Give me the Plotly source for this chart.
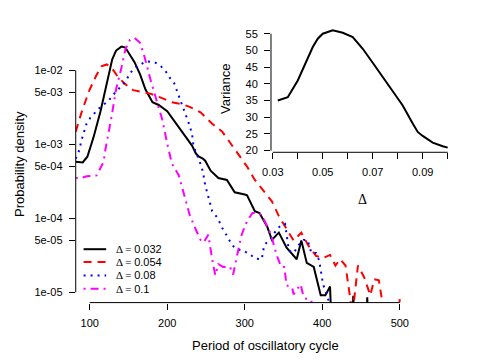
import math
import plotly.graph_objects as go

# period of oscillatory cycle vs probability density, one pair per Delta
period_032 = [82, 91, 97, 105, 114, 122, 129, 134, 141, 146, 152, 158, 165, 172, 181, 189, 200, 215, 225, 232,
              237, 241, 246, 249, 256, 266, 277, 287, 300, 303, 313, 319, 329, 335, 344, 354, 367, 373, 380, 389,
              398, 404, 410, 414, 437, 440, 443, 455, 458, 461]
dens_032 = [5.8e-4, 5.7e-4, 6.8e-4, 1.25e-3, 2.8e-3, 6.9e-3, 1.4e-2, 1.85e-2, 2.09e-2, 2.03e-2,
            1.63e-2, 1.28e-2, 8.8e-3, 5.5e-3, 3.7e-3, 3.4e-3, 2.8e-3, 1.7e-3, 1.19e-3, 9.6e-4,
            7.5e-4, 6.8e-4, 6.4e-4, 6.0e-4, 4.4e-4, 3.5e-4, 3.3e-4, 2.25e-4, 2.1e-4, 2.05e-4,
            1.25e-4, 1.18e-4, 7.7e-5, 5.1e-5, 6.4e-5, 4.0e-5, 2.8e-5, 5.0e-5, 2.5e-5, 2.2e-5,
            9.1e-6, 9.1e-6, 1.2e-5, 1e-6, 1e-6, 9e-6, 1e-6, 1e-6, 8.6e-6, 1e-6]

period_054 = [82, 89, 99, 108, 115, 122, 128, 137, 146, 156, 168, 179, 191, 206, 219, 229, 243, 258, 271, 287,
              303, 313, 325, 335, 344, 353, 363, 373, 382, 392, 401, 410, 417, 423, 430, 439, 446, 454, 462, 467,
              473, 480, 490, 500]
dens_054 = [1.48e-3, 2.6e-3, 5.2e-3, 8.3e-3, 1.13e-2, 1.2e-2, 1.09e-2, 8.0e-3, 6.5e-3, 5.4e-3,
            5.1e-3, 4.8e-3, 4.3e-3, 3.7e-3, 3.5e-3, 3.2e-3, 2.7e-3, 1.9e-3, 1.48e-3, 8.7e-4,
            5.0e-4, 3.3e-4, 2.3e-4, 1.7e-4, 1.07e-4, 7.4e-5, 5.0e-5, 6.4e-5, 4.3e-5, 3.1e-5,
            2.9e-5, 3.2e-5, 2.3e-5, 2.8e-5, 2.3e-5, 5e-6, 2.3e-5, 1.6e-5, 9.1e-6, 1.5e-5,
            1.45e-5, 5e-6, 1e-6, 8.1e-6]

period_08 = [82, 86, 90, 96, 101, 108, 114, 122, 128, 134, 141, 147, 152, 158, 166, 173, 184, 191, 198, 203,
             209, 213, 215, 222, 228, 232, 234, 241, 246, 249, 253, 258, 265, 271, 277, 284, 291, 298, 306, 314,
             322, 325, 329, 334, 341, 347, 352, 357, 363, 370, 376, 381, 386, 392, 396, 399, 401, 404, 408, 411]
dens_08 = [6.4e-4, 8.0e-4, 1.19e-3, 1.9e-3, 2.3e-3, 2.8e-3, 3.2e-3, 3.7e-3, 4.3e-3, 5.2e-3,
           6.1e-3, 7.3e-3, 9.1e-3, 1.09e-2, 1.2e-2, 1.32e-2, 1.28e-2, 1.16e-2, 9.7e-3, 8.0e-3,
           6.7e-3, 5.2e-3, 4.3e-3, 2.8e-3, 1.9e-3, 1.39e-3, 9.3e-4, 6.2e-4, 4.3e-4, 2.8e-4,
           1.9e-4, 1.25e-4, 1.01e-4, 7.4e-5, 5.8e-5, 4.3e-5, 3.8e-5, 3.65e-5, 3.3e-5, 2.85e-5,
           2.8e-5, 4.3e-5, 4.8e-5, 5.4e-5, 7.0e-5, 8.1e-5, 8.4e-5, 3.65e-5, 3.4e-5, 4.4e-5,
           5.1e-5, 5.1e-5, 3.4e-5, 3.4e-5, 2.7e-5, 1.7e-5, 1.28e-5, 1.06e-5, 7.8e-6, 1e-6]

period_1 = [82, 89, 96, 109, 118, 120, 128, 134, 141, 146, 152, 158, 165, 171, 179, 187, 194, 200, 206, 215,
            223, 229, 237, 243, 247, 253, 258, 262, 266, 272, 281, 285, 290, 296, 303, 310, 319, 325, 334, 341,
            347, 351, 354, 361, 363, 372, 376, 380, 386, 390]
dens_1 = [3.5e-4, 3.5e-4, 3.7e-4, 3.8e-4, 5.8e-4, 8.2e-4, 2.3e-3, 5.5e-3, 1.09e-2, 1.91e-2,
          2.59e-2, 2.75e-2, 2.36e-2, 1.49e-2, 7.1e-3, 3.8e-3, 2.1e-3, 1.02e-3, 5.5e-4, 3.8e-4,
          1.9e-4, 1.11e-4, 7.0e-5, 5.1e-5, 4.7e-5, 6.0e-5, 2.8e-5, 1.7e-5, 2.4e-5, 2.2e-5,
          2.2e-5, 1.74e-5, 3.1e-5, 6.0e-5, 9.2e-5, 1.18e-4, 1.18e-4, 9.5e-5, 6.0e-5, 3.2e-5,
          2.2e-5, 2.2e-5, 1.24e-5, 1.17e-5, 9.4e-6, 1.28e-5, 8.6e-6, 8.1e-6, 7.8e-6, 1e-6]

delta_labels = ["0.032", "0.054", "0.08", "0.1"]

# inset: variance of the period against Delta
delta = [0.032, 0.036, 0.040, 0.042, 0.044, 0.046, 0.048, 0.050, 0.054, 0.058, 0.062,
         0.066, 0.070, 0.074, 0.078, 0.082, 0.086, 0.088, 0.090, 0.094, 0.098, 0.100]
variance = [35, 36, 41, 44.5, 48, 51, 53.5, 55, 56, 55.3, 54,
            50.5, 46.3, 42.1, 38, 33.5, 28.1, 25.6, 24.4, 22.4, 21.3, 20.9]

dens_ticks = [1e-2, 5e-3, 1e-3, 5e-4, 1e-4, 5e-5, 1e-5]
dens_tick_text = ["1e-02", "5e-03", "1e-03", "5e-04", "1e-04", "5e-05", "1e-05"]
period_ticks = [100, 200, 300, 400, 500]
delta_ticks = [0.03, 0.04, 0.05, 0.06, 0.07, 0.08, 0.09, 0.10]
delta_tick_text = ["0.03", "", "0.05", "", "0.07", "", "0.09", ""]
var_ticks = [20, 25, 30, 35, 40, 45, 50, 55]

SANS = "Liberation Sans, Arial, sans-serif"
SERIF = "Liberation Serif, DejaVu Serif, serif"

colors = ["black", "#ff0000", "#0000ff", "#ff00ff"]
dashes = ["solid", "8px,6px", "2px,5px", "2px,5px,8px,5px"]
series = [(period_032, dens_032), (period_054, dens_054), (period_08, dens_08), (period_1, dens_1)]

xr = [82, 568]
yr = [-5.139, -1.384]

fig = go.Figure()
for (px, dy), c, d, lab in zip(series, colors, dashes, delta_labels):
    fig.add_trace(go.Scatter(x=px, y=dy, mode="lines", name=lab, showlegend=False,
                             line=dict(color=c, width=2, dash=d), xaxis="x", yaxis="y"))

fig.add_trace(go.Scatter(x=delta, y=variance, mode="lines", showlegend=False,
                         line=dict(color="black", width=2), xaxis="x2", yaxis="y2"))

axis_common = dict(showgrid=False, zeroline=False, showline=False, ticks="outside",
                   ticklen=6, tickwidth=1, tickcolor="black", ticklabelstandoff=4,
                   tickfont=dict(family=SANS, size=11, color="black"))

fig.update_layout(
    width=480, height=360,
    margin=dict(l=0, r=0, t=0, b=0),
    paper_bgcolor="white", plot_bgcolor="rgba(0,0,0,0)",
    font=dict(family=SANS, size=11, color="black"),
    xaxis=dict(domain=[68 / 480, 452 / 480], range=xr, tickvals=period_ticks, anchor="y", **axis_common),
    yaxis=dict(domain=[54 / 360, 335 / 360], type="log", range=yr, tickvals=dens_ticks,
               ticktext=dens_tick_text, anchor="x", **axis_common),
    xaxis2=dict(domain=[267 / 480, 454 / 480], range=[0.02928, 0.10272], tickvals=delta_ticks,
                ticktext=delta_tick_text, anchor="y2", **axis_common),
    yaxis2=dict(domain=[206 / 360, 334 / 360], range=[19.5, 57.4], tickvals=var_ticks,
                anchor="x2", **axis_common),
)

# R-style axis lines that stop at the outer ticks
def frac(v):
    return (math.log10(v) - yr[0]) / (yr[1] - yr[0])

line_style = dict(color="black", width=1)
fig.add_shape(type="line", xref="x", yref="y domain", x0=100, x1=500, y0=0, y1=0, line=line_style)
fig.add_shape(type="line", xref="x domain", yref="y domain", x0=0, x1=0,
              y0=frac(1e-5), y1=frac(1e-2), line=line_style)
fig.add_shape(type="line", xref="x2", yref="y2 domain", x0=0.03, x1=0.10, y0=0, y1=0, line=line_style)
fig.add_shape(type="line", xref="x2 domain", yref="y2", x0=0, x1=0, y0=20, y1=55, line=line_style)

# legend drawn by hand to keep R's tight row spacing
row_px = [252, 265, 278.5, 292]
for r, c, d, lab in zip(row_px, colors, dashes, delta_labels):
    yy = 1 - r / 360
    fig.add_shape(type="line", xref="paper", yref="paper", x0=76 / 480, x1=99 / 480, y0=yy, y1=yy,
                  line=dict(color=c, width=2, dash=d))
    fig.add_annotation(xref="paper", yref="paper", x=107 / 480, y=yy, xanchor="left", yanchor="middle",
                       showarrow=False, font=dict(size=11, family=SANS),
                       text="<span style='font-family:" + SERIF + "'>\u0394 = </span>" + lab)

fig.add_annotation(xref="paper", yref="paper", x=261 / 480, y=1 - 349 / 360, showarrow=False,
                   xanchor="center", yanchor="middle",
                   text="Period of oscillatory cycle", font=dict(size=13, family=SANS))
fig.add_annotation(xref="paper", yref="paper", x=10 / 480, y=1 - 166 / 360, showarrow=False,
                   xanchor="center", yanchor="middle",
                   textangle=-90, text="Probability density", font=dict(size=13, family=SANS))
fig.add_annotation(xref="paper", yref="paper", x=220 / 480, y=1 - 90 / 360, showarrow=False,
                   xanchor="center", yanchor="middle",
                   textangle=-90, text="Variance", font=dict(size=13, family=SANS))
fig.add_annotation(xref="paper", yref="paper", x=360 / 480, y=1 - 202 / 360, showarrow=False,
                   xanchor="center", yanchor="middle",
                   text="\u0394", font=dict(size=14, family=SERIF))

# the page body keeps its default 8px margin otherwise, which pushes the figure off the window
fig.write_html("out.html", config={"displayModeBar": False},
               post_script="document.body.style.margin = '0';")
